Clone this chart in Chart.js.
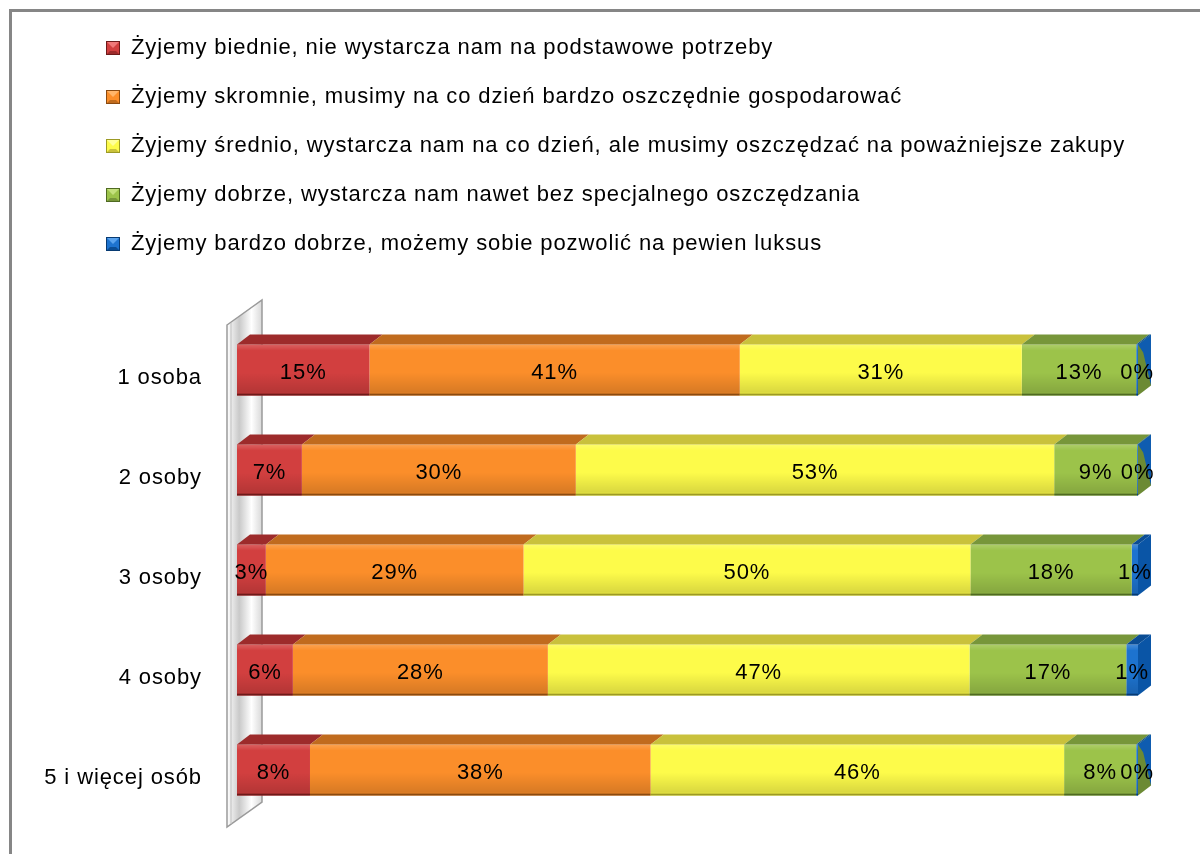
<!DOCTYPE html>
<html>
<head>
<meta charset="utf-8">
<title>Sytuacja materialna a liczba osób w gospodarstwie</title>
<script src="https://cdn.jsdelivr.net/npm/chart.js@4.4.1/dist/chart.umd.min.js"></script>
<style>
  html, body { margin: 0; padding: 0; background: #fff; }
  #wrap { position: relative; width: 1200px; height: 854px; overflow: hidden; }
  /* chart frame, only top and left edges are visible in the picture */
  #frame { position: absolute; left: 9px; top: 9px; width: 1400px; height: 1000px;
           border-left: 3px solid #868686; border-top: 3px solid #868686; }
  #chart { position: absolute; left: 0; top: 0; }
</style>
</head>
<body>
<div id="wrap">
  <div id="frame"></div>
  <canvas id="chart" width="1200" height="854"></canvas>
</div>
<script>
// Categories (household size)
const categories = ['1 osoba', '2 osoby', '3 osoby', '4 osoby', '5 i więcej osób'];

// Series names
const seriesNames = [
  'Żyjemy biednie, nie wystarcza nam na podstawowe potrzeby',
  'Żyjemy skromnie, musimy na co dzień bardzo oszczędnie gospodarować',
  'Żyjemy średnio, wystarcza nam na co dzień, ale musimy oszczędzać na poważniejsze zakupy',
  'Żyjemy dobrze, wystarcza nam nawet bez specjalnego oszczędzania',
  'Żyjemy bardzo dobrze, możemy sobie pozwolić na pewien luksus'
];

// Shares in percent (labels show rounded values)
const biednie      = [14.7,  7.2,  3.2,  6.2,  8.1];
const skromnie     = [41.1, 30.4, 28.6, 28.3, 37.8];
const srednio      = [31.3, 53.1, 49.6, 46.8, 45.9];
const dobrze       = [12.7,  9.2, 17.9, 17.4,  8.0];
const bardzoDobrze = [ 0.2,  0.1,  0.7,  1.3,  0.2];

// Colours: front face, top face (darker), bottom edge, legend highlight
const frontColors = ['#d23f3f', '#fb8e2a', '#fdfb4a', '#9cc34a', '#1d73cf'];
const topColors   = ['#9d2b2b', '#c06b1e', '#c9c13c', '#77963a', '#0b4d94'];
const edgeColors  = ['#6e1a1a', '#8a4a10', '#9c9a25', '#4f6a22', '#073a72'];
const lightColors = ['#f07878', '#ffb56a', '#ffff9a', '#c3e07c', '#5aa3ee'];

const FONT = 'Liberation Sans, Arial, sans-serif';
const FONT_SIZE = 22;
const SPACING = '0.9px';
const DX = 13;   // depth offset of the 3D faces
const DY = 10;

const ctx = document.getElementById('chart').getContext('2d');

// small bevelled squares for the legend
function legendIcon(d) {
  const c = document.createElement('canvas');
  c.width = 14; c.height = 14;
  const g = c.getContext('2d');
  g.fillStyle = frontColors[d];
  g.fillRect(0, 0, 14, 14);
  g.fillStyle = topColors[d];
  g.beginPath(); g.moveTo(0, 14); g.lineTo(14, 14); g.lineTo(10, 10); g.lineTo(4, 10); g.closePath(); g.fill();
  g.fillStyle = lightColors[d];
  g.beginPath(); g.moveTo(0, 0); g.lineTo(14, 0); g.lineTo(7, 7); g.closePath(); g.fill();
  g.strokeStyle = edgeColors[d];
  g.lineWidth = 1;
  g.strokeRect(0.5, 0.5, 13, 13);
  return c;
}

function setSpacing(chart) {
  chart.ctx.letterSpacing = SPACING;
}

// Draws the back wall, the top/side faces of the bars and the value labels
const bar3dPlugin = {
  id: 'bar3d',
  beforeUpdate: setSpacing,
  beforeLayout: setSpacing,
  afterLayout(chart) {
    // legend starts further right than the axis labels
    chart.legend.left = 79;
  },
  beforeDraw: setSpacing,
  beforeDatasetsDraw(chart) {
    const { ctx, chartArea } = chart;
    const x0 = chartArea.left - 10;
    const x1 = chartArea.left + 25;
    const t0 = chartArea.top + 5, b0 = chartArea.bottom + 7;
    const t1 = chartArea.top - 20, b1 = chartArea.bottom - 18;
    ctx.save();
    const g = ctx.createLinearGradient(x0, 0, x1, 0);
    g.addColorStop(0, '#ffffff');
    g.addColorStop(0.35, '#c9c9c9');
    g.addColorStop(0.7, '#ffffff');
    g.addColorStop(1, '#d8d8d8');
    ctx.beginPath();
    ctx.moveTo(x0, t0);
    ctx.lineTo(x1, t1);
    ctx.lineTo(x1, b1);
    ctx.lineTo(x0, b0);
    ctx.closePath();
    ctx.fillStyle = g;
    ctx.fill();
    ctx.strokeStyle = '#9a9a9a';
    ctx.lineWidth = 1.5;
    ctx.stroke();
    ctx.beginPath();
    ctx.moveTo(x0 + 4, t0 - 2);
    ctx.lineTo(x0 + 4, b0 - 3);
    ctx.strokeStyle = '#bdbdbd';
    ctx.lineWidth = 1;
    ctx.stroke();
    ctx.restore();
  },
  afterDatasetsDraw(chart) {
    const { ctx } = chart;
    const nSets = chart.data.datasets.length;
    ctx.save();
    categories.forEach((_, i) => {
      let rowRight = 0, rowTop = 0, rowBottom = 0;
      let lastVisible = 0;
      for (let d = 0; d < nSets; d++) {
        const el = chart.getDatasetMeta(d).data[i];
        const { x, y, base, height } = el.getProps(['x', 'y', 'base', 'height'], true);
        const left = Math.min(base, x), right = Math.max(base, x);
        const top = y - height / 2, bottom = y + height / 2;
        // shading of the front face
        const g = ctx.createLinearGradient(0, top, 0, bottom);
        g.addColorStop(0, 'rgba(255,255,255,0.18)');
        g.addColorStop(0.12, 'rgba(255,255,255,0)');
        g.addColorStop(0.55, 'rgba(0,0,0,0)');
        g.addColorStop(0.94, 'rgba(0,0,0,0.14)');
        g.addColorStop(0.95, 'rgba(0,0,0,0.0)');
        ctx.fillStyle = g;
        ctx.fillRect(left, top, right - left, height);
        ctx.fillStyle = edgeColors[d];
        ctx.fillRect(left, bottom - 2, right - left, 2);
        // top face
        ctx.beginPath();
        ctx.moveTo(left, top);
        ctx.lineTo(left + DX, top - DY);
        ctx.lineTo(right + DX, top - DY);
        ctx.lineTo(right, top);
        ctx.closePath();
        ctx.fillStyle = topColors[d];
        ctx.fill();
        if (right - left > 2) lastVisible = d;
        rowRight = right; rowTop = top; rowBottom = bottom;
      }
      // side face at the end of the bar
      const blueWide = lastVisible === nSets - 1;
      ctx.beginPath();
      ctx.moveTo(rowRight, rowTop);
      ctx.lineTo(rowRight + DX, rowTop - DY);
      ctx.lineTo(rowRight + DX, rowBottom - DY);
      ctx.lineTo(rowRight, rowBottom);
      ctx.closePath();
      ctx.fillStyle = blueWide ? '#0a55a6' : '#6c8a34';
      ctx.fill();
      if (!blueWide) {
        ctx.beginPath();
        ctx.moveTo(rowRight, rowTop);
        ctx.lineTo(rowRight + DX, rowTop - DY);
        ctx.lineTo(rowRight + DX, rowBottom - DY);
        ctx.lineTo(rowRight + DX * 0.4, rowTop + 8);
        ctx.closePath();
        ctx.fillStyle = '#0f5cb0';
        ctx.fill();
      }
    });
    // value labels
    ctx.fillStyle = '#000';
    ctx.font = FONT_SIZE + 'px ' + FONT;
    ctx.letterSpacing = SPACING;
    ctx.textAlign = 'center';
    ctx.textBaseline = 'middle';
    for (let d = 0; d < nSets; d++) {
      const meta = chart.getDatasetMeta(d);
      meta.data.forEach((el, i) => {
        const { x, y, base } = el.getProps(['x', 'y', 'base'], true);
        const v = chart.data.datasets[d].data[i];
        ctx.fillText(Math.round(v) + '%', (x + base) / 2, y + 3);
      });
    }
    ctx.restore();
  }
};

const seriesData = [biednie, skromnie, srednio, dobrze, bardzoDobrze];

new Chart(ctx, {
  type: 'bar',
  data: {
    labels: categories,
    datasets: seriesData.map((arr, d) => ({
      label: seriesNames[d],
      data: arr,
      backgroundColor: frontColors[d],
      borderWidth: 0,
      barPercentage: 1,
      categoryPercentage: 0.51
    }))
  },
  options: {
    responsive: false,
    animation: false,
    indexAxis: 'y',
    layout: { padding: { left: 20, right: 62, top: 10, bottom: 34 } },
    scales: {
      x: {
        stacked: true, min: 0, max: 100, position: 'top',
        ticks: { display: false },
        grid: { display: false, drawTicks: false },
        border: { display: false },
        afterFit: (s) => { s.height = 55; }
      },
      y: {
        stacked: true,
        grid: { display: false, drawTicks: false },
        border: { display: false },
        ticks: { color: '#000', font: { family: FONT, size: FONT_SIZE }, padding: 35, labelOffset: 8 },
        afterFit: (s) => { s.width = 217; s.paddingTop = 0; s.paddingBottom = 0; }
      }
    },
    plugins: {
      legend: {
        position: 'top',
        align: 'start',
        labels: {
          color: '#000',
          font: { family: FONT, size: FONT_SIZE },
          usePointStyle: true,
          boxWidth: 14,
          boxHeight: 14,
          padding: 27,
          generateLabels: (chart) => chart.data.datasets.map((ds, d) => ({
            text: ds.label,
            fillStyle: frontColors[d],
            strokeStyle: edgeColors[d],
            lineWidth: 1,
            pointStyle: legendIcon(d),
            datasetIndex: d
          }))
        }
      },
      tooltip: { enabled: false }
    }
  },
  plugins: [bar3dPlugin]
});
</script>
</body>
</html>
